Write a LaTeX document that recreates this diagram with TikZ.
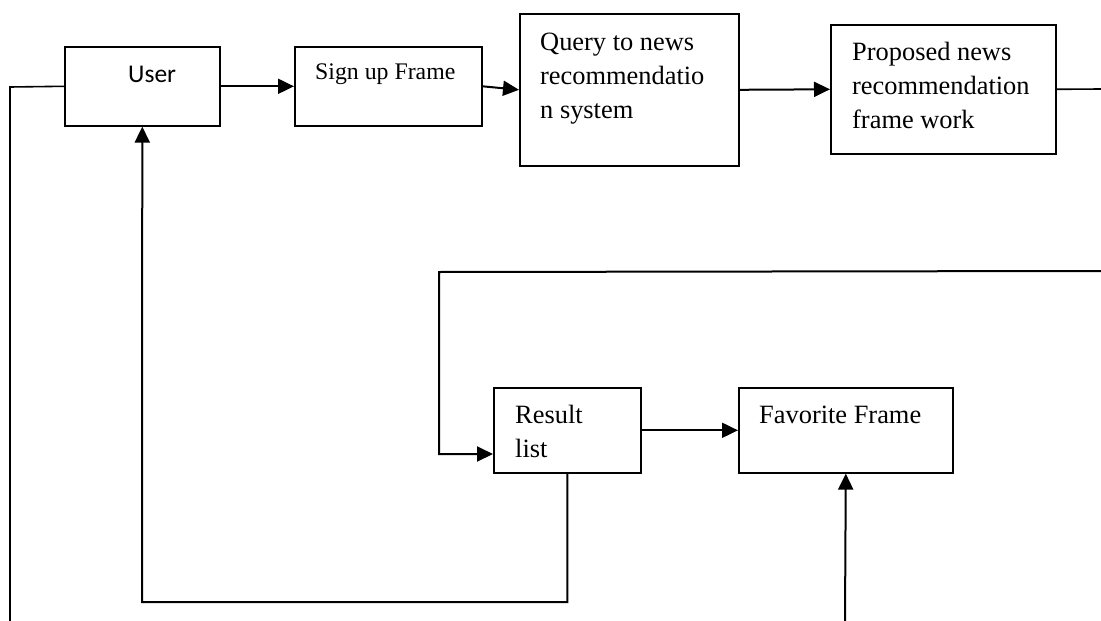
\documentclass[tikz,border=0pt]{standalone}
\usepackage{fontspec}
\setmainfont{Liberation Serif}
\newfontfamily\carl{Carlito}
\usetikzlibrary{arrows.meta}
\begin{document}
\begin{tikzpicture}[x=1pt,y=-1pt,
  box/.style={draw, line width=1.6pt, inner sep=0pt, anchor=north west},
  txt/.style={anchor=base west, inner sep=0pt, align=left, font=\fontsize{26.4}{34}\selectfont},
  arr/.style={line width=2pt, -{Triangle[length=16pt,width=15pt]}},
  ln/.style={line width=1.6pt}]
\useasboundingbox (0,0) rectangle (1101,621);
% boxes
\node[box, minimum width=155pt, minimum height=79pt] (user) at (64,46) {};
\node[box, minimum width=187pt, minimum height=79pt] (signup) at (294,46) {};
\node[box, minimum width=219pt, minimum height=152pt] (query) at (519,13) {};
\node[box, minimum width=225pt, minimum height=129pt] (prop) at (830,24) {};
\node[box, minimum width=147pt, minimum height=85pt] (result) at (493,387) {};
\node[box, minimum width=214pt, minimum height=85pt] (fav) at (738,387) {};
% texts (base anchor = baseline of the last line)
\node[txt, font=\carl\fontsize{25.5}{30}\selectfont] (userT) at (128,82) {User};
\node[txt, font=\fontsize{23.8}{30}\selectfont] (signupT) at (315,79) {Sign up Frame};
\node[txt] (queryT) at (540,118) {Query to news\\recommendatio\\n system};
\node[txt] (propT) at (852,128) {Proposed news\\recommendation\\frame work};
\node[txt] (resultT) at (515,457) {Result\\list};
\node[txt] (favT) at (759,423) {Favorite Frame};
% coordinates
\coordinate (rE) at (1101,89);
\coordinate (rT) at (1101,271);
\coordinate (cT) at (439,272);
\coordinate (cR) at (439,454);
\coordinate (bot) at (142,602);
\coordinate (fB) at (845,621);
\coordinate (lT) at (10,87);
\coordinate (lB) at (10,621);
% connectors
\draw[arr] (user.east) -- (signup.west);
\draw[arr] (signup.east) -- (query.west);
\draw[arr] (query.east) -- (prop.west);
\draw[ln] (prop.east) -- (rE);
\draw[arr] (rT) -- (cT) -- (cR) -- (result.west |- cR);
\draw[arr] (result.east) -- (fav.west);
\draw[arr] (result.south) |- (bot) -- (user.south);
\draw[arr] (fB) -- (fav.south);
\draw[ln] (user.west) -- (lT) -- (lB);
\end{tikzpicture}
\end{document}
